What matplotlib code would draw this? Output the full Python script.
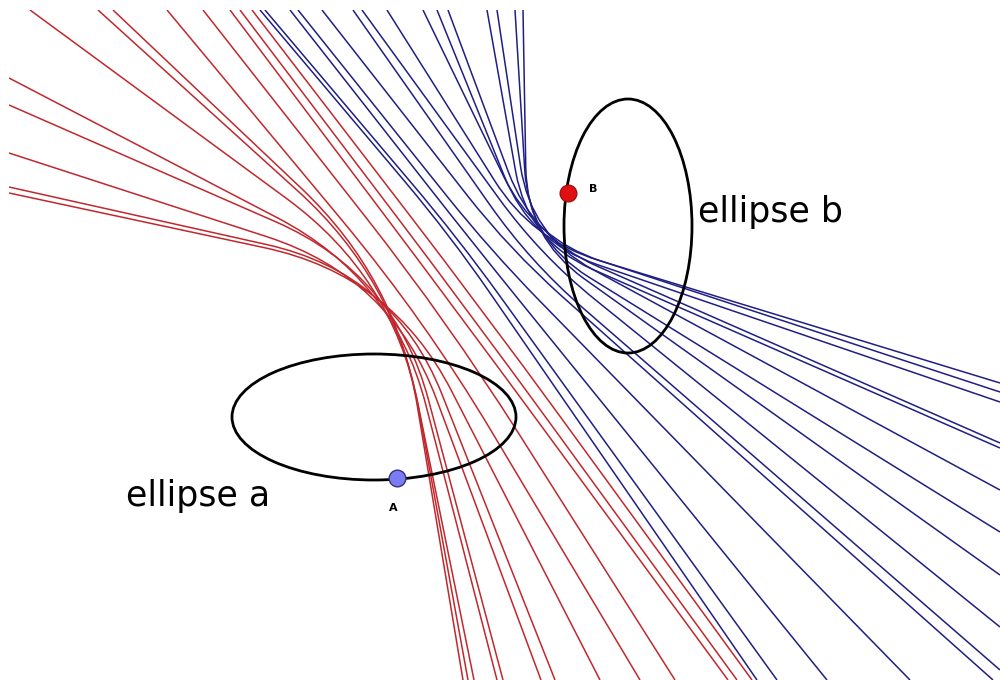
import numpy as np
import matplotlib
matplotlib.use("Agg")
import matplotlib.pyplot as plt
from matplotlib.path import Path
from matplotlib.patches import PathPatch, Ellipse

# picture coordinates in pixels, y grows downward
# each curve: start on the frame, the corner it bends round, end on the frame
red_x0 = [9, 9, 9, 9, 9, 30, 98, 113, 167, 203, 230, 240, 252]
red_y0 = [193, 187, 153, 105, 78, 10, 10, 10, 10, 10, 10, 10, 10]
red_cx = [392, 394, 391, 395, 393, 392, 395, 396, 425, 448, 462, 472, 484]
red_cy = [275, 273, 277, 274, 278, 276, 279, 278, 320, 322, 318, 316, 312]
red_x1 = [600, 555, 541, 503, 497, 474, 468, 463, 640, 675, 728, 737, 752]
red_y1 = [680] * 13

blue_x0 = [523, 515, 497, 487, 448, 437, 423, 387, 362, 353, 322, 298, 290, 265, 260]
blue_y0 = [10] * 15
blue_cx = [527, 529, 531, 528, 533, 531, 534, 532, 540, 530, 510, 490, 472, 458, 450]
blue_cy = [238, 240, 236, 241, 238, 242, 239, 240, 255, 262, 250, 250, 242, 238, 235]
blue_x1 = [1000, 1000, 1000, 1000, 1000, 1000, 1000, 1000, 1000, 1000, 993, 910, 827, 777, 757]
blue_y1 = [575, 532, 490, 448, 443, 402, 392, 383, 627, 670, 680, 680, 680, 680, 680]

ellipse_a = dict(center=(374, 417), width=284, height=126)
ellipse_b = dict(center=(628, 226), width=128, height=254)
point_a = (397, 478)
point_b = (568, 193)


def draw_family(ax, x0, y0, cx, cy, x1, y1, color, radius=70):
    # start -> corner -> end, with the corner rounded off
    for i in range(len(x0)):
        s = np.array([x0[i], y0[i]], float)
        k = np.array([cx[i], cy[i]], float)
        e = np.array([x1[i], y1[i]], float)
        d_in, d_out = np.linalg.norm(k - s), np.linalg.norm(e - k)
        r = min(radius, 0.45 * d_in, 0.45 * d_out)
        a = k - r * (k - s) / d_in
        b = k + r * (e - k) / d_out
        verts = [tuple(s), tuple(a), tuple(k), tuple(b), tuple(e)]
        codes = [Path.MOVETO, Path.LINETO, Path.CURVE3, Path.CURVE3, Path.LINETO]
        ax.add_patch(PathPatch(Path(verts, codes), facecolor="none",
                               edgecolor=color, linewidth=1.1, zorder=1))


fig = plt.figure(figsize=(10, 6.8), dpi=100)
ax = fig.add_axes([0.009, 0, 0.991, 670 / 680])
ax.set_xlim(9, 1000)
ax.set_ylim(680, 10)
ax.axis("off")

draw_family(ax, red_x0, red_y0, red_cx, red_cy, red_x1, red_y1, "#c0282d", radius=130)
draw_family(ax, blue_x0, blue_y0, blue_cx, blue_cy, blue_x1, blue_y1, "#1f1f84", radius=70)

for e in (ellipse_a, ellipse_b):
    ax.add_patch(Ellipse(e["center"], e["width"], e["height"], fill=False,
                         edgecolor="black", linewidth=2.0, zorder=3))

ax.plot(*point_a, "o", ms=12, mfc="#7c7cf2", mec="#33337a", mew=1, zorder=4)
ax.plot(*point_b, "o", ms=12, mfc="#e01010", mec="#a01010", mew=1, zorder=4)
ax.text(point_a[0] - 4, 508, "A", fontsize=8, fontweight="bold", ha="center", va="center")
ax.text(593, 189, "B", fontsize=8, fontweight="bold", ha="center", va="center")

ax.text(126, 496, "ellipse a", fontsize=25, ha="left", va="center")
ax.text(698, 212, "ellipse b", fontsize=25, ha="left", va="center")

fig.savefig("out.png", dpi=100)
